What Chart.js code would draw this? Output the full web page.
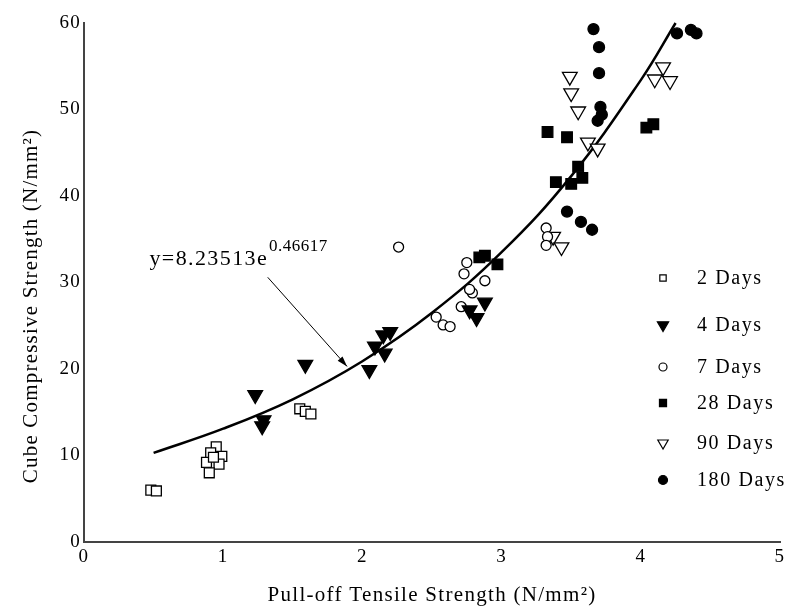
<!DOCTYPE html>
<html>
<head>
<meta charset="utf-8">
<script src="https://cdn.jsdelivr.net/npm/chart.js@4.4.1/dist/chart.umd.min.js"></script>
<style>
  html, body { margin: 0; padding: 0; background: #fff; }
  #wrap { width: 792px; height: 608px; }
</style>
</head>
<body>
<div id="wrap"><canvas id="chart" width="792" height="608"></canvas></div>
<script>
// values
var days2X = [0.48, 0.52, 0.95, 0.91, 0.99, 0.88, 0.97, 0.90, 0.93, 1.55, 1.59, 1.63];
var days2Y = [6.0, 5.9, 11.0, 10.3, 9.9, 9.2, 9.0, 8.0, 9.8, 15.4, 15.1, 14.8];

var days4X = [1.23, 1.29, 1.28, 1.59, 2.05, 2.09, 2.16, 2.15, 2.20, 2.77, 2.82, 2.88];
var days4Y = [17.0, 14.1, 13.4, 20.5, 19.9, 22.6, 21.8, 23.9, 24.3, 26.8, 25.9, 27.7];

var days7X = [2.26, 2.53, 2.58, 2.63, 2.71, 2.79, 2.77, 2.88, 2.73, 2.75, 3.32, 3.33, 3.32];
var days7Y = [34.1, 26.0, 25.1, 24.9, 27.2, 28.8, 29.2, 30.2, 31.0, 32.3, 36.3, 35.3, 34.3];

var days28X = [2.84, 2.88, 2.97, 3.33, 3.47, 3.55, 3.39, 3.50, 3.58, 4.04, 4.09];
var days28Y = [32.9, 33.1, 32.1, 47.4, 46.8, 43.4, 41.6, 41.4, 42.1, 47.9, 48.3];

var days90X = [3.37, 3.43, 3.49, 3.50, 3.55, 3.62, 3.69, 4.10, 4.16, 4.21];
var days90Y = [35.3, 34.1, 53.8, 51.9, 49.8, 46.2, 45.5, 53.5, 54.9, 53.3];

var days180X = [3.47, 3.57, 3.65, 3.66, 3.70, 3.70, 3.71, 3.72, 3.69, 4.26, 4.36, 4.40];
var days180Y = [38.2, 37.0, 36.1, 59.3, 57.2, 54.2, 50.3, 49.4, 48.7, 58.8, 59.2, 58.8];

// fitted curve
var fitX = [0.5, 1.0, 1.5, 2.0, 2.5, 3.0, 3.5, 4.0, 4.25];
var fitY = [10.3, 13.1, 16.5, 20.9, 26.5, 33.5, 42.3, 53.4, 60.0];

var xTicks = [0, 1, 2, 3, 4, 5];
var yTicks = [0, 10, 20, 30, 40, 50, 60];

var seriesNames = ["2 Days", "4 Days", "7 Days", "28 Days", "90 Days", "180 Days"];

var FONT = "'Liberation Serif', 'DejaVu Serif', serif";

function toPoints(xs, ys) {
  var pts = [];
  xs.forEach(function (x, i) {
    pts.push({ x: x, y: ys[i] });
  });
  return pts;
}

function scatterSet(label, xs, ys, style, radius, rotation, filled) {
  return {
    type: "scatter",
    label: label,
    data: toPoints(xs, ys),
    pointStyle: style,
    pointRadius: radius,
    pointHoverRadius: radius,
    rotation: rotation,
    pointBackgroundColor: filled ? "#000" : "#fff",
    pointBorderColor: "#000",
    pointBorderWidth: 1.3,
    clip: false
  };
}

var sets = [
  scatterSet(seriesNames[0], days2X, days2Y, "rect", 7, 0, false),
  scatterSet(seriesNames[1], days4X, days4Y, "triangle", 8.5, 180, true),
  scatterSet(seriesNames[2], days7X, days7Y, "circle", 5, 0, false),
  scatterSet(seriesNames[3], days28X, days28Y, "rect", 7.5, 0, true),
  scatterSet(seriesNames[4], days90X, days90Y, "triangle", 8.5, 180, false),
  scatterSet(seriesNames[5], days180X, days180Y, "circle", 5.5, 0, true)
];

sets.push({
  type: "line",
  label: "fit",
  data: toPoints(fitX, fitY),
  borderColor: "#000",
  borderWidth: 2.5,
  pointRadius: 0,
  tension: 0.4,
  fill: false,
  clip: false
});

// legend sizes are smaller than the plotted markers
var legendRadius = [4.5, 6.5, 4, 5, 6, 4.5];
var legendRows = [278, 325, 367, 403, 443, 480];

// the original text is spaced out, set it before the scales draw
var spacedText = {
  id: "spacedText",
  beforeDraw: function (chart) {
    chart.ctx.letterSpacing = "1.3px";
  }
};

var sideLegend = {
  id: "sideLegend",
  afterDraw: function (chart) {
    var ctx = chart.ctx;
    ctx.save();
    ctx.letterSpacing = "1.6px";
    ctx.font = "20px " + FONT;
    ctx.textBaseline = "middle";
    ctx.textAlign = "left";
    for (var i = 0; i < 6; i++) {
      var ds = chart.data.datasets[i];
      ctx.fillStyle = ds.pointBackgroundColor;
      ctx.strokeStyle = "#000";
      ctx.lineWidth = 1.2;
      Chart.helpers.drawPoint(ctx, {
        pointStyle: ds.pointStyle,
        radius: legendRadius[i],
        rotation: ds.rotation,
        borderWidth: 1.2
      }, 663, legendRows[i]);
      ctx.fillStyle = "#000";
      ctx.fillText(seriesNames[i], 697, legendRows[i] + 1);
    }
    ctx.restore();
  }
};

var yTitle = {
  id: "yTitle",
  afterDraw: function (chart) {
    var ctx = chart.ctx;
    ctx.save();
    ctx.letterSpacing = "1.2px";
    ctx.font = "21px " + FONT;
    ctx.fillStyle = "#000";
    ctx.textAlign = "center";
    ctx.textBaseline = "middle";
    ctx.translate(31, 306);
    ctx.rotate(-Math.PI / 2);
    ctx.fillText("Cube Compressive Strength (N/mm²)", 0, 0);
    ctx.restore();
  }
};

var equationNote = {
  id: "equationNote",
  afterDraw: function (chart) {
    var ctx = chart.ctx;
    var xs = chart.scales.x, ys = chart.scales.y;
    ctx.save();
    ctx.fillStyle = "#000";
    ctx.textBaseline = "alphabetic";
    ctx.letterSpacing = "1.4px";
    ctx.font = "22px " + FONT;
    var tx = xs.getPixelForValue(0.47), ty = ys.getPixelForValue(32.0);
    var base = "y=8.23513e";
    ctx.fillText(base, tx, ty);
    var w = ctx.measureText(base).width;
    ctx.letterSpacing = "0.5px";
    ctx.font = "17px " + FONT;
    ctx.fillText("0.46617", tx + w + 1, ty - 14);

    // arrow to the curve
    var x1 = xs.getPixelForValue(1.32), y1 = ys.getPixelForValue(30.6);
    var x2 = xs.getPixelForValue(1.89), y2 = ys.getPixelForValue(20.3);
    ctx.strokeStyle = "#000";
    ctx.lineWidth = 1;
    ctx.beginPath();
    ctx.moveTo(x1, y1);
    ctx.lineTo(x2, y2);
    ctx.stroke();
    var a = Math.atan2(y2 - y1, x2 - x1);
    ctx.beginPath();
    ctx.moveTo(x2, y2);
    ctx.lineTo(x2 - 11 * Math.cos(a - 0.3), y2 - 11 * Math.sin(a - 0.3));
    ctx.lineTo(x2 - 11 * Math.cos(a + 0.3), y2 - 11 * Math.sin(a + 0.3));
    ctx.closePath();
    ctx.fill();
    ctx.restore();
  }
};

new Chart("chart", {
  data: { datasets: sets },
  options: {
    responsive: false,
    animation: false,
    layout: { padding: { top: 23, right: 12, left: 0, bottom: 0 } },
    plugins: {
      legend: { display: false },
      tooltip: { enabled: false }
    },
    scales: {
      x: {
        type: "linear",
        min: 0,
        max: 5,
        afterBuildTicks: function (scale) {
          scale.ticks = xTicks.map(function (v) { return { value: v }; });
        },
        afterFit: function (scale) { scale.height = 66; },
        grid: { display: false, drawTicks: false },
        border: { display: true, color: "#444", width: 2 },
        ticks: { color: "#000", padding: 4, font: { family: FONT, size: 19 } },
        title: {
          display: true,
          text: "Pull-off Tensile Strength (N/mm²)",
          color: "#000",
          padding: { top: 10, bottom: 0 },
          font: { family: FONT, size: 21 }
        }
      },
      y: {
        type: "linear",
        min: 0,
        max: 60,
        afterBuildTicks: function (scale) {
          scale.ticks = yTicks.map(function (v) { return { value: v }; });
        },
        afterFit: function (scale) { scale.width = 84; },
        grid: { display: false, drawTicks: false },
        border: { display: true, color: "#444", width: 2 },
        ticks: { color: "#000", padding: 3, font: { family: FONT, size: 19 } }
      }
    }
  },
  plugins: [spacedText, sideLegend, yTitle, equationNote]
});
</script>
</body>
</html>
